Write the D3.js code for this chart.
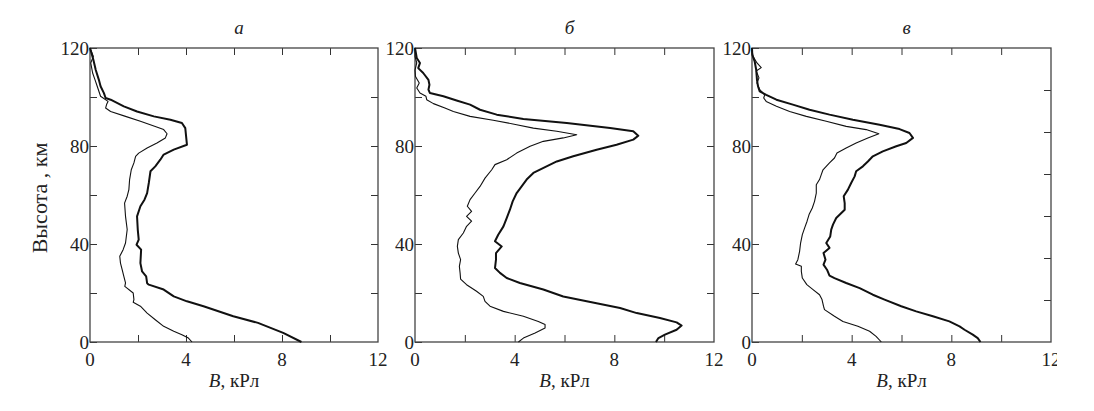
<!DOCTYPE html>
<html>
<head>
<meta charset="utf-8">
<script src="https://cdn.jsdelivr.net/npm/d3@7"></script>
<style>
	body { margin: 0; background: #fff; }
	text { font-family: "Liberation Serif", "Times New Roman", serif; fill: #222; }
</style>
</head>
<body>
<div id="container"></div>
<script>
// profiles: [B (kR), height (km)]
var aThick = [[8.81,0],[8.05,3.7],[7.0,7.8],[5.97,10.5],[4.73,14.6],[4.04,16.6],[3.49,18.6],[3.07,21.4],[2.45,23.4],[2.38,24],
	[2.34,26.8],[2.17,28.8],[2.1,32.2],[2.13,37.7],[1.94,39.7],[2.03,41.8],[1.99,45.9],[1.96,51.3],[2.1,55.4],[2.27,58.1],
	[2.38,60.8],[2.45,64.9],[2.52,69.7],[2.72,71.7],[2.93,74.4],[3.07,76.5],[3.49,78.5],[4.04,80.5],[3.97,87.3],[3.83,89.4],
	[3.35,90.7],[2.66,92.1],[1.96,94.1],[1.41,96.2],[0.86,98.9],[0.65,99.6],[0.58,101.6],[0.44,104.4],[0.37,107],[0.24,111],
	[0.14,115.2],[0.06,118],[0,120]];
var aThin = [[4.25,0],[4.1,1.6],[3.83,3],[3.49,4.4],[3.07,6.4],[2.72,9.1],[2.38,11.8],[2.1,14.6],[1.8,16.2],[1.83,17.3],
	[1.8,20],[1.45,22.7],[1.48,24.1],[1.41,26.8],[1.34,29.5],[1.27,32.2],[1.24,35],[1.38,37.7],[1.48,40.4],[1.55,45.9],
	[1.48,51.3],[1.44,56.7],[1.55,59.5],[1.62,62.2],[1.65,66.3],[1.72,70.3],[1.83,73.1],[1.9,75.8],[2.03,77.1],[2.38,79.2],
	[2.79,81.2],[3.14,83.3],[3.21,85],[3.07,86.7],[2.72,88],[2.1,90.1],[1.48,92.1],[0.86,94.1],[0.65,95.5],[0.69,96.9],
	[0.75,98.2],[0.44,100.3],[0.3,104.4],[0.21,107],[0.11,109.8],[0.03,113.9],[0.14,116.6],[0.03,119.3]];

var bThick = [[9.67,0],[9.77,1.6],[10.03,3],[10.5,5],[10.7,6.7],[10.5,8],[9.83,9.8],[8.9,11.8],[8.23,13.9],[6.89,16.6],
	[5.95,18.6],[5.15,21.4],[4.21,24.1],[3.68,26.1],[3.41,28.2],[3.21,30.2],[3.25,33.6],[3.25,36.3],[3.48,39],[3.21,41.1],
	[3.34,43.8],[3.55,47.2],[3.68,50.6],[3.81,54],[3.92,57.4],[4.08,60.8],[4.28,63.5],[4.48,66.3],[4.75,69],[5.28,71.7],
	[5.69,73.7],[6.35,75.8],[7.29,78.5],[8.09,80.5],[8.76,82.6],[8.96,84.2],[8.76,86],[7.83,87.3],[6.09,89.4],[4.35,91],
	[3.28,92.8],[2.61,94.8],[2.21,96.9],[1.67,98.6],[1.14,100.3],[0.6,101.6],[0.54,103],[0.58,105],[0.54,107],[0.33,109.8],
	[0.13,111.8],[0.2,113.9],[0.07,115.9],[0,120]];
var bThin = [[4.15,0],[4.35,1.6],[4.82,3.7],[5.22,5.7],[5.22,7.1],[4.95,8.4],[4.35,10.5],[3.55,12.5],[3.01,14.6],[2.81,16.6],
	[2.74,18.6],[2.47,20.7],[2.07,23.4],[1.83,25.7],[1.81,28.2],[1.78,30.9],[1.83,33.6],[1.74,36.3],[1.7,39],[1.74,41.8],
	[1.94,44.5],[2.07,47.2],[2.27,49.3],[2.07,51.3],[2.27,53.3],[2.1,55.4],[2.21,58.1],[2.41,60.8],[2.61,63.5],[2.81,66.9],
	[3.08,70.3],[3.21,72.4],[3.68,74.4],[4.08,77.1],[4.62,79.9],[5.15,81.9],[5.95,83.3],[6.49,84.6],[5.69,86],[4.75,87.3],
	[4.08,88.7],[3.14,90.5],[2.21,92.1],[1.54,94.1],[1.2,95.5],[0.74,97.3],[0.47,98.9],[0.44,100.3],[0.2,101.6],[0.07,103.7],
	[0.17,105.7],[0.02,108.4],[0,111],[0.07,113.9],[0,116.6],[0,120]];

var cThick = [[9.17,0],[9.06,1.6],[8.86,3],[8.53,5],[8.33,6.4],[7.92,8.4],[7.26,10.5],[6.59,12.5],[5.99,14.6],[5.32,17.3],
	[4.85,19.3],[4.32,22],[3.78,24.1],[3.31,26.1],[3.11,27.1],[3.01,29.5],[2.87,31.6],[2.95,33.6],[2.87,36.3],[3.11,38.4],
	[2.98,40.4],[3.14,43.1],[3.18,45.9],[3.25,47.9],[3.38,50.6],[3.72,54],[3.72,56.7],[3.68,59.5],[3.85,62.2],[3.98,64.9],
	[4.12,67.6],[4.18,69.7],[4.45,71.7],[4.65,73.7],[4.85,75.8],[5.25,77.8],[5.79,79.9],[6.19,81.2],[6.46,83.3],[6.32,85.3],
	[5.92,86.9],[5.12,88.7],[4.05,90.7],[3.11,92.8],[2.31,94.8],[1.64,96.9],[0.98,98.9],[0.57,100.9],[0.31,102.3],[0.24,104.4],
	[0.2,107],[0.17,111],[0.11,114.4],[0.01,117.3],[0,120]];
var cThin = [[5.19,0],[4.98,2.3],[4.72,4.4],[4.25,6.4],[3.65,8.4],[3.31,10.5],[2.91,13.2],[2.87,14.6],[2.81,17.3],[2.71,19.3],
	[2.45,21.4],[2.2,23.4],[2.02,26.1],[1.98,28.8],[1.98,30.9],[1.75,31.8],[1.84,33.6],[1.91,37],[1.95,40.4],[2.02,43.8],
	[2.11,46.5],[2.21,49.3],[2.29,52],[2.42,54.7],[2.51,57.4],[2.58,60.8],[2.58,64.2],[2.71,66.3],[2.78,68.3],[2.85,70.3],
	[3.11,73.1],[3.31,75.1],[3.41,77.1],[3.78,79.2],[4.18,81.2],[4.65,83.3],[5.09,85],[4.58,86.7],[3.78,88],[2.98,90.1],
	[2.18,92.1],[1.51,94.1],[0.98,96.2],[0.57,98.2],[0.47,99.6],[0.51,100.9],[0.31,103],[0.2,105.7],[0.28,107.8],[0.17,110.6],
	[0.37,112],[0.2,113.9],[0.04,116.6],[0,119.3]];

var titles = ['а', 'б', 'в'];
var altLabels = [0, 40, 80, 120];
var altMinor = [0, 20, 40, 60, 80, 100, 120];
var bLabels = [0, 4, 8, 12];
var bMinor = [2, 4, 6, 8, 10];
// right-hand ticks of panel в are spaced in sevenths of the height range
var rightTicks = [
	d3.range(20, 120, 20),
	d3.range(20, 120, 20),
	d3.range(1, 7).map(function(i){ return i * 120 / 7; })
];

var panels = [
	{x0: 90, x1: 378, thick: aThick, thin: aThin},
	{x0: 415, x1: 714, thick: bThick, thin: bThin},
	{x0: 752, x1: 1051, thick: cThick, thin: cThin}
];
var plotTop = 48, plotBottom = 342;

var svg = d3.select('#container').append('svg')
	.attr('width', 1094)
	.attr('height', 411);

// the scan cuts the last "12" on the right
svg.append('defs').append('clipPath')
	.attr('id', 'pageclip')
	.append('rect')
	.attr('x', 0).attr('y', 0)
	.attr('width', 1057).attr('height', 411);

var y = d3.scaleLinear().domain([0, 120]).range([plotBottom, plotTop]);

panels.forEach(function(p, i){
	var x = d3.scaleLinear().domain([0, 12]).range([p.x0, p.x1]);
	var g = svg.append('g').attr('clip-path', 'url(#pageclip)');

	// ticks on all four sides, pointing inwards
	g.append('g')
		.attr('transform', 'translate(' + p.x0 + ',0)')
		.call(d3.axisRight(y).tickValues(altMinor).tickSize(7).tickFormat(''));
	g.append('g')
		.attr('transform', 'translate(' + p.x1 + ',0)')
		.call(d3.axisLeft(y).tickValues(rightTicks[i]).tickSize(7).tickFormat(''));
	g.append('g')
		.attr('transform', 'translate(0,' + plotBottom + ')')
		.call(d3.axisTop(x).tickValues(bMinor).tickSize(7).tickFormat(''));
	g.append('g')
		.attr('transform', 'translate(0,' + plotTop + ')')
		.call(d3.axisBottom(x).tickValues(bMinor).tickSize(7).tickFormat(''));
	g.selectAll('.domain').remove();
	g.selectAll('.tick line').attr('stroke', '#333').attr('stroke-width', 1);

	g.append('rect')
		.attr('x', p.x0).attr('y', plotTop)
		.attr('width', p.x1 - p.x0).attr('height', plotBottom - plotTop)
		.attr('fill', 'none')
		.attr('stroke', '#444')
		.attr('stroke-width', 1.3);

	// tick labels
	g.selectAll('.ylab').data(altLabels).enter()
		.append('text')
		.attr('x', p.x0 - 1)
		.attr('y', function(d){ return y(d); })
		.attr('dy', '0.35em')
		.style('text-anchor', 'end')
		.style('font-size', '19px')
		.text(function(d){ return d; });
	g.selectAll('.xlab').data(bLabels).enter()
		.append('text')
		.attr('x', function(d){ return x(d); })
		.attr('y', plotBottom + 24)
		.style('text-anchor', 'middle')
		.style('font-size', '19px')
		.text(function(d){ return d; });

	var line = d3.line()
		.x(function(d){ return x(d[0]); })
		.y(function(d){ return y(d[1]); });

	g.append('path')
		.attr('d', line(p.thin))
		.attr('fill', 'none')
		.attr('stroke', '#111')
		.attr('stroke-width', 1.1)
		.attr('stroke-linejoin', 'round');
	g.append('path')
		.attr('d', line(p.thick))
		.attr('fill', 'none')
		.attr('stroke', '#111')
		.attr('stroke-width', 2)
		.attr('stroke-linejoin', 'round');

	svg.append('text')
		.attr('x', (p.x0 + p.x1) / 2 + 5)
		.attr('y', 34)
		.style('text-anchor', 'middle')
		.style('font-size', '19px')
		.style('font-style', 'italic')
		.text(titles[i]);

	var xl = svg.append('text')
		.attr('x', (p.x0 + p.x1) / 2)
		.attr('y', 387)
		.style('text-anchor', 'middle')
		.style('font-size', '19px');
	xl.append('tspan').style('font-style', 'italic').text('B');
	xl.append('tspan').text(', кРл');
});

svg.append('text')
	.attr('transform', 'translate(47,198) rotate(-90)')
	.style('text-anchor', 'middle')
	.style('font-size', '22px')
	.text('Высота , км');
</script>
</body>
</html>
